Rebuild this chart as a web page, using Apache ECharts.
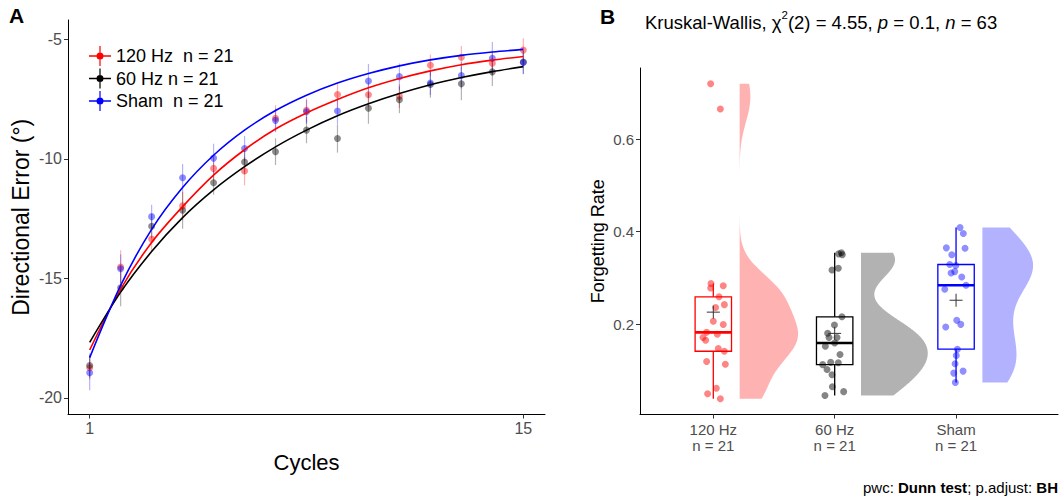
<!DOCTYPE html>
<html>
<head>
<meta charset="utf-8">
<script src="https://cdn.jsdelivr.net/npm/echarts@6/dist/echarts.min.js"></script>
<style>html,body{margin:0;padding:0;background:#fff}#c{width:1060px;height:498px}</style>
</head>
<body>
<div id="c"></div>
<script>
// ---------- Panel A data ----------
const cycles = [1,2,3,4,5,6,7,8,9,10,11,12,13,14,15];
const seriesNamesA = ['120 Hz  n = 21', '60 Hz n = 21', 'Sham  n = 21'];
const mean120 = [-18.74,-14.53,-13.36,-11.97,-10.40,-10.51,-8.30,-7.97,-7.31,-7.32,-7.38,-6.08,-5.75,-6.00,-5.45];
const se120   = [0.50,0.70,0.50,0.60,0.50,0.60,0.55,0.50,0.52,0.50,0.50,0.45,0.47,0.50,0.50];
const fit120  = [-18.00,-15.45,-13.50,-12.00,-10.68,-9.62,-8.75,-8.08,-7.52,-7.03,-6.64,-6.32,-6.06,-5.87,-5.72];
const mean60  = [-18.65,-15.40,-12.82,-12.15,-11.00,-10.13,-9.70,-8.80,-9.15,-7.88,-7.53,-6.89,-6.86,-6.36,-5.95];
const se60    = [0.50,0.77,0.50,0.78,0.50,0.50,0.56,0.55,0.59,0.65,0.56,0.55,0.69,0.59,0.49];
const fit60   = [-17.68,-15.58,-13.88,-12.46,-11.30,-10.33,-9.50,-8.80,-8.20,-7.70,-7.27,-6.90,-6.60,-6.35,-6.14];
const meanSham = [-18.95,-14.60,-12.42,-10.79,-9.97,-9.57,-8.39,-8.03,-8.00,-6.74,-6.56,-6.83,-6.51,-5.79,-5.97];
const seSham   = [0.73,0.60,0.50,0.57,0.60,0.53,0.50,0.50,0.55,0.71,0.55,0.50,0.55,0.68,0.49];
const fitSham  = [-18.32,-15.30,-12.95,-11.20,-9.85,-8.80,-7.98,-7.34,-6.83,-6.43,-6.11,-5.86,-5.67,-5.53,-5.42];
const ticksAX = [1, 15];
const ticksAY = [-20, -15, -10, -5];

// ---------- Panel B data ----------
const groupsB = ['120 Hz', '60 Hz', 'Sham'];
const rate120 = [0.7206,0.666,0.2877,0.278,0.283,0.259,0.236,0.242,0.206,0.199,0.182,0.178,0.171,0.165,0.147,0.141,0.119,0.113,0.061,0.049,0.038];
const jitter120 = [-0.022,0.058,-0.019,-0.022,0.082,0.047,0.019,0.091,0.0,0.082,-0.055,0.033,-0.085,-0.063,0.041,0.091,-0.055,0.099,0.025,-0.047,0.058];
const rate60 = [0.352,0.3545,0.350,0.317,0.321,0.2157,0.198,0.18,0.171,0.171,0.159,0.152,0.134,0.117,0.116,0.112,0.1016,0.09,0.064,0.0535,0.045];
const jitter60 = [0.033,0.055,0.063,-0.022,0.030,0.060,-0.002,-0.058,0.019,-0.047,0.0,-0.077,0.044,-0.033,0.030,-0.099,-0.063,-0.022,-0.019,0.074,-0.080];
const rateSham = [0.409,0.396,0.365,0.364,0.350,0.329,0.327,0.3136,0.3106,0.302,0.284,0.2754,0.208,0.1993,0.1935,0.1455,0.1317,0.1138,0.098,0.0937,0.0735];
const jitterSham = [0.033,0.060,-0.080,0.074,-0.035,-0.052,-0.002,-0.011,-0.041,0.047,0.082,-0.093,0.006,0.039,-0.085,0.011,0.002,-0.008,0.058,-0.019,-0.006];
const ticksBY = [0.2, 0.4, 0.6];
const titleB = '{a|Kruskal-Wallis, χ}{s|2}{a|(2) = 4.55, }{i|p}{a| = 0.1, }{i|n}{a| = 63}';

// ---------- helpers ----------
const colorsA = ['#FF0000', '#000000', '#0000FF'];
const FONT = 'Liberation Sans';
function q7(sorted, p) {
  const h = (sorted.length - 1) * p, lo = Math.floor(h), hi = Math.ceil(h);
  return sorted[lo] + (sorted[hi] - sorted[lo]) * (h - lo);
}
function boxStats(vals) {
  const s = vals.slice().sort((a, b) => a - b);
  const q1 = q7(s, 0.25), med = q7(s, 0.5), q3 = q7(s, 0.75), iqr = q3 - q1;
  const lo = s.find(v => v >= q1 - 1.5 * iqr);
  const hi = s.slice().reverse().find(v => v <= q3 + 1.5 * iqr);
  const mean = s.reduce((a, b) => a + b, 0) / s.length;
  return {q1, med, q3, lo, hi, mean};
}
function kde(vals) {
  const n = vals.length;
  const s = vals.slice().sort((a, b) => a - b);
  const mean = s.reduce((a, b) => a + b, 0) / n;
  const sd = Math.sqrt(s.reduce((a, b) => a + (b - mean) * (b - mean), 0) / (n - 1));
  const iqr = q7(s, 0.75) - q7(s, 0.25);
  const bw = 0.9 * Math.min(sd, iqr / 1.34) * Math.pow(n, -0.2);
  const ys = [], ds = [];
  const m = 256;
  for (let i = 0; i < m; i++) {
    const y = s[0] + (s[n - 1] - s[0]) * i / (m - 1);
    let d = 0;
    for (const v of s) { const z = (y - v) / bw; d += Math.exp(-0.5 * z * z); }
    ys.push(y); ds.push(d / (n * bw * Math.sqrt(2 * Math.PI)));
  }
  return {ys, ds};
}

const ratesB = [rate120, rate60, rateSham];
const jittersB = [jitter120, jitter60, jitterSham];
const stats = ratesB.map(boxStats);
const dens = ratesB.map(kde);
const maxDens = Math.max(...dens.map(d => Math.max(...d.ds)));
const violinOffset = 0.217, violinMaxW = 0.55, boxHalf = 0.15;
const pointColors = ['rgba(255,0,0,0.6)', 'rgba(0,0,0,0.6)', 'rgba(0,0,255,0.55)'];
const violinColors = ['rgba(255,0,0,0.3)', 'rgba(0,0,0,0.3)', 'rgba(0,0,255,0.3)'];

// ---------- series ----------
const series = [];
const meansA = [mean120, mean60, meanSham], sesA = [se120, se60, seSham], fitsA = [fit120, fit60, fitSham];
for (let g = 0; g < 3; g++) {
  const col = colorsA[g];
  series.push({
    type: 'line', name: seriesNamesA[g], xAxisIndex: 0, yAxisIndex: 0,
    data: cycles.map((c, i) => [c, fitsA[g][i]]), smooth: 0.3, showSymbol: false,
    lineStyle: {color: col, width: 1.6}, itemStyle: {color: col}, z: 4, silent: true
  });
  series.push({
    type: 'custom', name: seriesNamesA[g], xAxisIndex: 0, yAxisIndex: 0,
    data: cycles.map((c, i) => [c, meansA[g][i] - sesA[g][i], meansA[g][i] + sesA[g][i]]),
    encode: {x: 0, y: [1, 2]}, z: 2, silent: true,
    renderItem: (params, api) => {
      const p1 = api.coord([api.value(0), api.value(1)]);
      const p2 = api.coord([api.value(0), api.value(2)]);
      return {type: 'line', shape: {x1: p1[0], y1: p1[1], x2: p2[0], y2: p2[1]},
        style: {stroke: col, lineWidth: 1.2, opacity: 0.3}};
    }
  });
  series.push({
    type: 'scatter', name: seriesNamesA[g], xAxisIndex: 0, yAxisIndex: 0,
    data: cycles.map((c, i) => [c, meansA[g][i]]), symbolSize: 7,
    itemStyle: {color: col, opacity: 0.45}, z: 3, silent: true
  });
}
// Panel B
for (let g = 0; g < 3; g++) {
  const col = colorsA[g];
  const c = g + 1;
  series.push({
    type: 'custom', xAxisIndex: 1, yAxisIndex: 1, z: 1, silent: true,
    data: [[c, stats[g].med]],
    renderItem: (params, api) => {
      const d = dens[g], x0 = c + violinOffset, pts = [];
      pts.push(api.coord([x0, d.ys[0]]));
      for (let i = 0; i < d.ys.length; i++) pts.push(api.coord([x0 + d.ds[i] / maxDens * violinMaxW, d.ys[i]]));
      pts.push(api.coord([x0, d.ys[d.ys.length - 1]]));
      return {type: 'polygon', shape: {points: pts}, style: {fill: violinColors[g]}};
    }
  });
  series.push({
    type: 'custom', xAxisIndex: 1, yAxisIndex: 1, z: 2, silent: true,
    data: [[c, stats[g].med]],
    renderItem: (params, api) => {
      const s = stats[g];
      const tl = api.coord([c - boxHalf, s.q3]), br = api.coord([c + boxHalf, s.q1]);
      const m1 = api.coord([c - boxHalf, s.med]), m2 = api.coord([c + boxHalf, s.med]);
      const wt = api.coord([c, s.hi]), wb = api.coord([c, s.lo]);
      return {type: 'group', children: [
        {type: 'line', shape: {x1: wt[0], y1: wt[1], x2: wt[0], y2: tl[1]}, style: {stroke: col, lineWidth: 1.3}},
        {type: 'line', shape: {x1: wb[0], y1: br[1], x2: wb[0], y2: wb[1]}, style: {stroke: col, lineWidth: 1.3}},
        {type: 'rect', shape: {x: tl[0], y: tl[1], width: br[0] - tl[0], height: br[1] - tl[1]}, style: {fill: 'none', stroke: col, lineWidth: 1.3}},
        {type: 'line', shape: {x1: m1[0], y1: m1[1], x2: m2[0], y2: m2[1]}, style: {stroke: col, lineWidth: 2.6}}
      ]};
    }
  });
  series.push({
    type: 'scatter', xAxisIndex: 1, yAxisIndex: 1, z: 3, silent: true,
    data: ratesB[g].map((v, i) => [c + jittersB[g][i], v]), symbolSize: 7,
    itemStyle: {color: pointColors[g]}
  });
  series.push({
    type: 'custom', xAxisIndex: 1, yAxisIndex: 1, z: 4, silent: true,
    data: [[c, stats[g].mean]],
    renderItem: (params, api) => {
      const p = api.coord([c, stats[g].mean]);
      return {type: 'group', children: [
        {type: 'line', shape: {x1: p[0] - 6.5, y1: p[1], x2: p[0] + 6.5, y2: p[1]}, style: {stroke: '#333', lineWidth: 1}},
        {type: 'line', shape: {x1: p[0], y1: p[1] - 6.5, x2: p[0], y2: p[1] + 6.5}, style: {stroke: '#333', lineWidth: 1}}
      ]};
    }
  });
}

const axisCommon = {
  axisLine: {show: true, onZero: false, lineStyle: {color: '#000', width: 1}},
  splitLine: {show: false},
  axisTick: {show: true, length: 4, lineStyle: {color: '#333', width: 1}}
};

const option = {
  animation: false,
  textStyle: {fontFamily: FONT},
  title: {
    text: titleB, left: 640, top: 4,
    textStyle: {fontWeight: 'normal', rich: {
      a: {fontSize: 18.5, color: '#000', fontFamily: FONT, fontWeight: 'normal', lineHeight: 26},
      i: {fontSize: 18.5, color: '#000', fontStyle: 'italic', fontWeight: 'normal', fontFamily: FONT, lineHeight: 26},
      s: {fontSize: 11.5, color: '#000', fontFamily: FONT, fontWeight: 'normal', verticalAlign: 'top', lineHeight: 13}
    }}
  },
  legend: {
    data: seriesNamesA, orient: 'vertical', left: 84, top: 41, itemGap: 2.5,
    itemWidth: 22, itemHeight: 20, selectedMode: false,
    icon: 'path://M0,9.2 h22 v1.6 h-22 Z M10.4,0 h1.2 v20 h-1.2 Z M14.5,10 a3.5,3.5 0 1,1 -7,0 a3.5,3.5 0 1,1 7,0 Z',
    textStyle: {fontSize: 18, color: '#000', fontFamily: FONT}
  },
  grid: [
    {left: 68, top: 20, width: 477, height: 394.5},
    {left: 640, top: 68, width: 418, height: 346.5}
  ],
  xAxis: [
    Object.assign({}, axisCommon, {
      type: 'value', gridIndex: 0, min: 0.3, max: 15.7,
      axisTick: {show: true, length: 4, customValues: ticksAX, lineStyle: {color: '#333'}},
      axisLabel: {customValues: ticksAX, fontSize: 16, color: '#4d4d4d', margin: 6},
      name: 'Cycles', nameLocation: 'middle', nameGap: 37,
      nameTextStyle: {fontSize: 22, color: '#000'}
    }),
    Object.assign({}, axisCommon, {
      type: 'value', gridIndex: 1, min: 0.396, max: 3.84,
      axisTick: {show: true, length: 4, customValues: [1, 2, 3], lineStyle: {color: '#333'}},
      axisLabel: {customValues: [1, 2, 3], fontSize: 15, color: '#4d4d4d', margin: 7, lineHeight: 16,
        formatter: v => groupsB[Math.round(v) - 1] + '\nn = ' + ratesB[Math.round(v) - 1].length}
    })
  ],
  yAxis: [
    Object.assign({}, axisCommon, {
      type: 'value', gridIndex: 0, min: -20.70, max: -4.19,
      axisTick: {show: true, length: 4, customValues: ticksAY, lineStyle: {color: '#333'}},
      axisLabel: {customValues: ticksAY, fontSize: 16, color: '#4d4d4d', margin: 6},
      name: 'Directional Error (°)', nameLocation: 'middle', nameGap: 36, nameRotate: 90,
      nameTextStyle: {fontSize: 23, color: '#000'}
    }),
    Object.assign({}, axisCommon, {
      type: 'value', gridIndex: 1, min: 0.004, max: 0.7547,
      axisTick: {show: true, length: 4, customValues: ticksBY, lineStyle: {color: '#333'}},
      axisLabel: {customValues: ticksBY, fontSize: 15, color: '#4d4d4d', margin: 6, formatter: v => v.toFixed(1)},
      name: 'Forgetting Rate', nameLocation: 'middle', nameGap: 33, nameRotate: 90,
      nameTextStyle: {fontSize: 18, color: '#000'}
    })
  ],
  graphic: [
    {type: 'text', left: 9, top: 5, style: {text: 'A', fontSize: 21, fontWeight: 'bold', fill: '#000', fontFamily: FONT}},
    {type: 'text', left: 600, top: 6, style: {text: 'B', fontSize: 21, fontWeight: 'bold', fill: '#000', fontFamily: FONT}},
    {type: 'text', right: 2, top: 480, style: {
      text: '{n|pwc: }{b|Dunn test}{n|; p.adjust: }{b|BH}', fontFamily: FONT,
      rich: {n: {fontSize: 15, fill: '#000', fontFamily: FONT}, b: {fontSize: 15, fontWeight: 'bold', fill: '#000', fontFamily: FONT}}
    }}
  ],
  series: series
};

const chart = echarts.init(document.getElementById('c'), null, {renderer: 'svg', width: 1060, height: 498});
chart.setOption(option);
</script>
</body>
</html>
